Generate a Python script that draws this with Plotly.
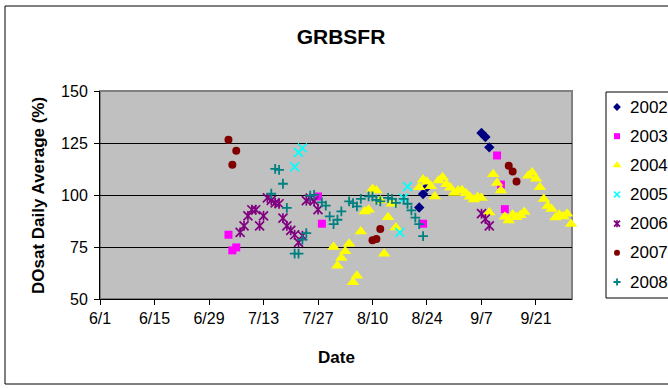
import pandas as pd
import plotly.graph_objects as go

# Every season is placed on one shared calendar year so the summers overlay.
YEAR = 2001

dates_2002 = ["8/22", "8/23", "8/24", "9/7", "9/8", "9/9"]
do_2002 = [94.0, 100.5, 103.8, 129.8, 127.9, 122.9]

dates_2003 = ["7/4", "7/5", "7/6", "7/27", "7/28", "8/23", "9/11", "9/12", "9/13"]
do_2003 = [80.9, 73.4, 74.8, 99.3, 86.2, 86.2, 119.0, 105.0, 93.2]

dates_2004 = ["7/31", "8/1", "8/2", "8/3", "8/4", "8/5", "8/6", "8/7", "8/8", "8/9",
              "8/10", "8/11", "8/12", "8/13", "8/14", "8/15", "8/16",
              "8/22", "8/23", "8/24", "8/25", "8/26", "8/27", "8/28", "8/29", "8/30",
              "8/31", "9/1", "9/2", "9/3", "9/4", "9/5", "9/6", "9/7", "9/9", "9/10",
              "9/11", "9/12", "9/13", "9/14", "9/15", "9/16", "9/17", "9/18", "9/19",
              "9/20", "9/21", "9/22", "9/23", "9/24", "9/25", "9/26", "9/27", "9/28",
              "9/29", "9/30"]
do_2004 = [75.0, 66.0, 69.7, 72.9, 76.6, 58.0, 61.2, 82.5, 92.1, 92.9,
           102.9, 102.2, 97.3, 71.8, 89.3, 95.8, 84.4,
           103.7, 107.5, 106.4, 104.2, 99.3, 107.0, 108.5, 105.2, 103.5,
           101.0, 102.2, 102.3, 100.9, 99.2, 97.8, 99.0, 98.5, 91.6, 110.0,
           105.8, 102.2, 89.6, 87.8, 90.5, 89.3, 90.3, 91.8, 109.2,
           110.8, 107.8, 103.7, 98.1, 94.7, 93.3, 89.2, 90.5, 89.7,
           91.0, 86.0]

dates_2005 = ["7/21", "7/22", "7/23", "8/17", "8/18", "8/19"]
do_2005 = [113.5, 120.5, 122.6, 82.0, 98.5, 104.0]

dates_2006 = ["7/7", "7/8", "7/9", "7/10", "7/11", "7/12", "7/13", "7/14", "7/15",
              "7/16", "7/17", "7/18", "7/19", "7/20", "7/21", "7/22", "7/23", "7/24",
              "7/25", "7/26", "7/27", "9/7", "9/8", "9/9"]
do_2006 = [82.0, 85.2, 90.0, 92.9, 92.9, 85.2, 90.0, 98.6, 97.4,
           96.2, 95.8, 88.9, 85.2, 83.0, 80.9, 77.2, 80.4, 97.3,
           98.5, 97.2, 93.0, 91.0, 88.5, 85.2]

dates_2007 = ["7/4", "7/5", "7/6", "8/10", "8/11", "8/12", "9/14", "9/15", "9/16"]
do_2007 = [126.6, 114.6, 121.3, 78.2, 78.8, 83.7, 114.1, 111.3, 106.5]

dates_2008 = ["7/15", "7/16", "7/17", "7/18", "7/19", "7/21", "7/22", "7/23", "7/24",
              "7/25", "7/26", "7/28", "7/29", "7/30", "7/31", "8/1", "8/2", "8/4",
              "8/5", "8/6", "8/7", "8/9", "8/10", "8/11", "8/12", "8/14", "8/15",
              "8/16", "8/18", "8/19", "8/20", "8/21", "8/22", "8/23"]
do_2008 = [100.6, 112.6, 112.1, 105.4, 93.8, 71.8, 71.8, 78.5, 81.7,
           99.7, 100.1, 96.5, 94.9, 89.7, 86.0, 88.1, 92.1, 96.9,
           96.1, 94.5, 98.1, 99.3, 99.3, 97.7, 96.9, 98.6, 98.1,
           96.2, 98.1, 95.8, 92.6, 89.1, 86.0, 80.2]

x_tick_labels = ["6/1", "6/15", "6/29", "7/13", "7/27", "8/10", "8/24", "9/7", "9/21"]
y_tick_values = [50, 75, 100, 125, 150]
y_grid_values = [75, 100, 125]

W, H = 668, 388
FONT = "Arial, 'Liberation Sans', sans-serif"

# plot area and legend box, in pixels
PX_L, PX_R, PX_T, PX_B = 100, 572, 91, 299
LEG_L, LEG_T, LEG_B = 606, 92, 298


def to_dt(days):
    return pd.to_datetime([f"{YEAR}/{d}" for d in days], format="%Y/%m/%d")


def px_x(px):
    return px / W


def px_y(py):
    return 1 - py / H


# (label, dates, values, list of marker styles used for the series)
series = [
    ("2002", dates_2002, do_2002,
     [dict(symbol="diamond", size=8, color="#000080")]),
    ("2003", dates_2003, do_2003,
     [dict(symbol="square", size=8, color="#FF00FF")]),
    ("2004", dates_2004, do_2004,
     [dict(symbol="triangle-up", size=11, color="#FFFF00")]),
    ("2005", dates_2005, do_2005,
     [dict(symbol="x-thin-open", size=9, color="#00FFFF", line=dict(width=1.7, color="#00FFFF"))]),
    ("2006", dates_2006, do_2006,
     [dict(symbol="x-thin-open", size=9, color="#800080", line=dict(width=1.7, color="#800080")),
      dict(symbol="line-ns-open", size=7, color="#800080", line=dict(width=1.7, color="#800080"))]),
    ("2007", dates_2007, do_2007,
     [dict(symbol="circle", size=8, color="#800000")]),
    ("2008", dates_2008, do_2008,
     [dict(symbol="cross-thin-open", size=7, color="#008080", line=dict(width=1.8, color="#008080"))]),
]

fig = go.Figure()

for name, d, v, markers in series:
    for m in markers:
        fig.add_trace(go.Scatter(
            x=to_dt(d), y=v, mode="markers", name=name, marker=m,
            showlegend=False, cliponaxis=False, xaxis="x", yaxis="y",
        ))

# legend keys drawn on their own small axis pair
KEY_X, TEXT_X = 11, 22
for i, (name, d, v, markers) in enumerate(series):
    for m in markers:
        km = dict(m)
        km["size"] = max(5, round(m["size"] * 0.7))
        fig.add_trace(go.Scatter(
            x=[KEY_X], y=[i], mode="markers", marker=km, showlegend=False,
            cliponaxis=False, xaxis="x2", yaxis="y2", hoverinfo="skip",
        ))
    fig.add_annotation(x=TEXT_X, y=i, xref="x2", yref="y2", text=name,
                       showarrow=False, xanchor="left", yanchor="middle",
                       font=dict(family=FONT, size=17, color="black"))

row_gap = 29.17
first_row = 107
fig.update_layout(
    template="none",
    width=W, height=H,
    margin=dict(l=0, r=0, t=0, b=0, pad=0),
    paper_bgcolor="white",
    plot_bgcolor="rgba(0,0,0,0)",
    font=dict(family=FONT, size=16, color="black"),
    title=dict(text="<b>GRBSFR</b>", x=px_x(341), xanchor="center",
               y=px_y(37), yanchor="middle", automargin=False,
               font=dict(family=FONT, size=21, color="black")),
    xaxis=dict(
        type="date", domain=[px_x(PX_L), px_x(PX_R)],
        range=[f"{YEAR}-06-01", f"{YEAR}-09-30 06:00"],
        tickvals=to_dt(x_tick_labels), ticktext=x_tick_labels,
        ticks="outside", ticklen=5, tickwidth=1, tickcolor="black",
        showline=True, linecolor="black", linewidth=1,
        showgrid=False, zeroline=False, automargin=False,
        tickfont=dict(family=FONT, size=16, color="black"),
        anchor="y", fixedrange=True,
    ),
    yaxis=dict(
        domain=[px_y(PX_B), px_y(PX_T)], range=[50, 150],
        tickvals=y_tick_values,
        ticks="outside", ticklen=5, tickwidth=1, tickcolor="black",
        ticklabelstandoff=3,
        showline=True, linecolor="black", linewidth=1,
        showgrid=False, zeroline=False, automargin=False,
        minor=dict(tickvals=y_grid_values, showgrid=True, gridcolor="black",
                   gridwidth=1, ticks=""),
        tickfont=dict(family=FONT, size=16, color="black"),
        anchor="x", fixedrange=True,
    ),
    xaxis2=dict(domain=[px_x(LEG_L), 1], range=[0, W - LEG_L], visible=False,
                anchor="y2", fixedrange=True, automargin=False),
    yaxis2=dict(domain=[px_y(LEG_B), px_y(LEG_T)],
                range=[(LEG_B - first_row) / row_gap, (LEG_T - first_row) / row_gap],
                visible=False, anchor="x2", fixedrange=True, automargin=False),
    showlegend=False,
)

# chart frame, legend box, grey plot area and its border
fig.add_shape(type="rect", xref="paper", yref="paper", layer="below",
              x0=px_x(5), x1=1.2, y0=px_y(384), y1=px_y(6),
              line=dict(color="black", width=1), fillcolor="white")
fig.add_shape(type="rect", xref="paper", yref="paper", layer="below",
              x0=px_x(LEG_L), x1=1.2, y0=px_y(LEG_B), y1=px_y(LEG_T),
              line=dict(color="black", width=1), fillcolor="white")
fig.add_shape(type="rect", xref="paper", yref="paper", layer="below",
              x0=px_x(PX_L), x1=px_x(PX_R), y0=px_y(PX_B), y1=px_y(PX_T),
              line=dict(color="#808080", width=2), fillcolor="#C0C0C0")

# axis titles
fig.add_annotation(text="<b>Date</b>", x=px_x(336), y=px_y(357), xref="paper", yref="paper",
                   showarrow=False, xanchor="center", yanchor="middle",
                   font=dict(family=FONT, size=17, color="black"))
fig.add_annotation(text="<b>DOsat Daily Average (%)</b>", x=px_x(38), y=px_y(196),
                   xref="paper", yref="paper", textangle=-90,
                   showarrow=False, xanchor="center", yanchor="middle",
                   font=dict(family=FONT, size=17, color="black"))

fig.write_html("out.html")
